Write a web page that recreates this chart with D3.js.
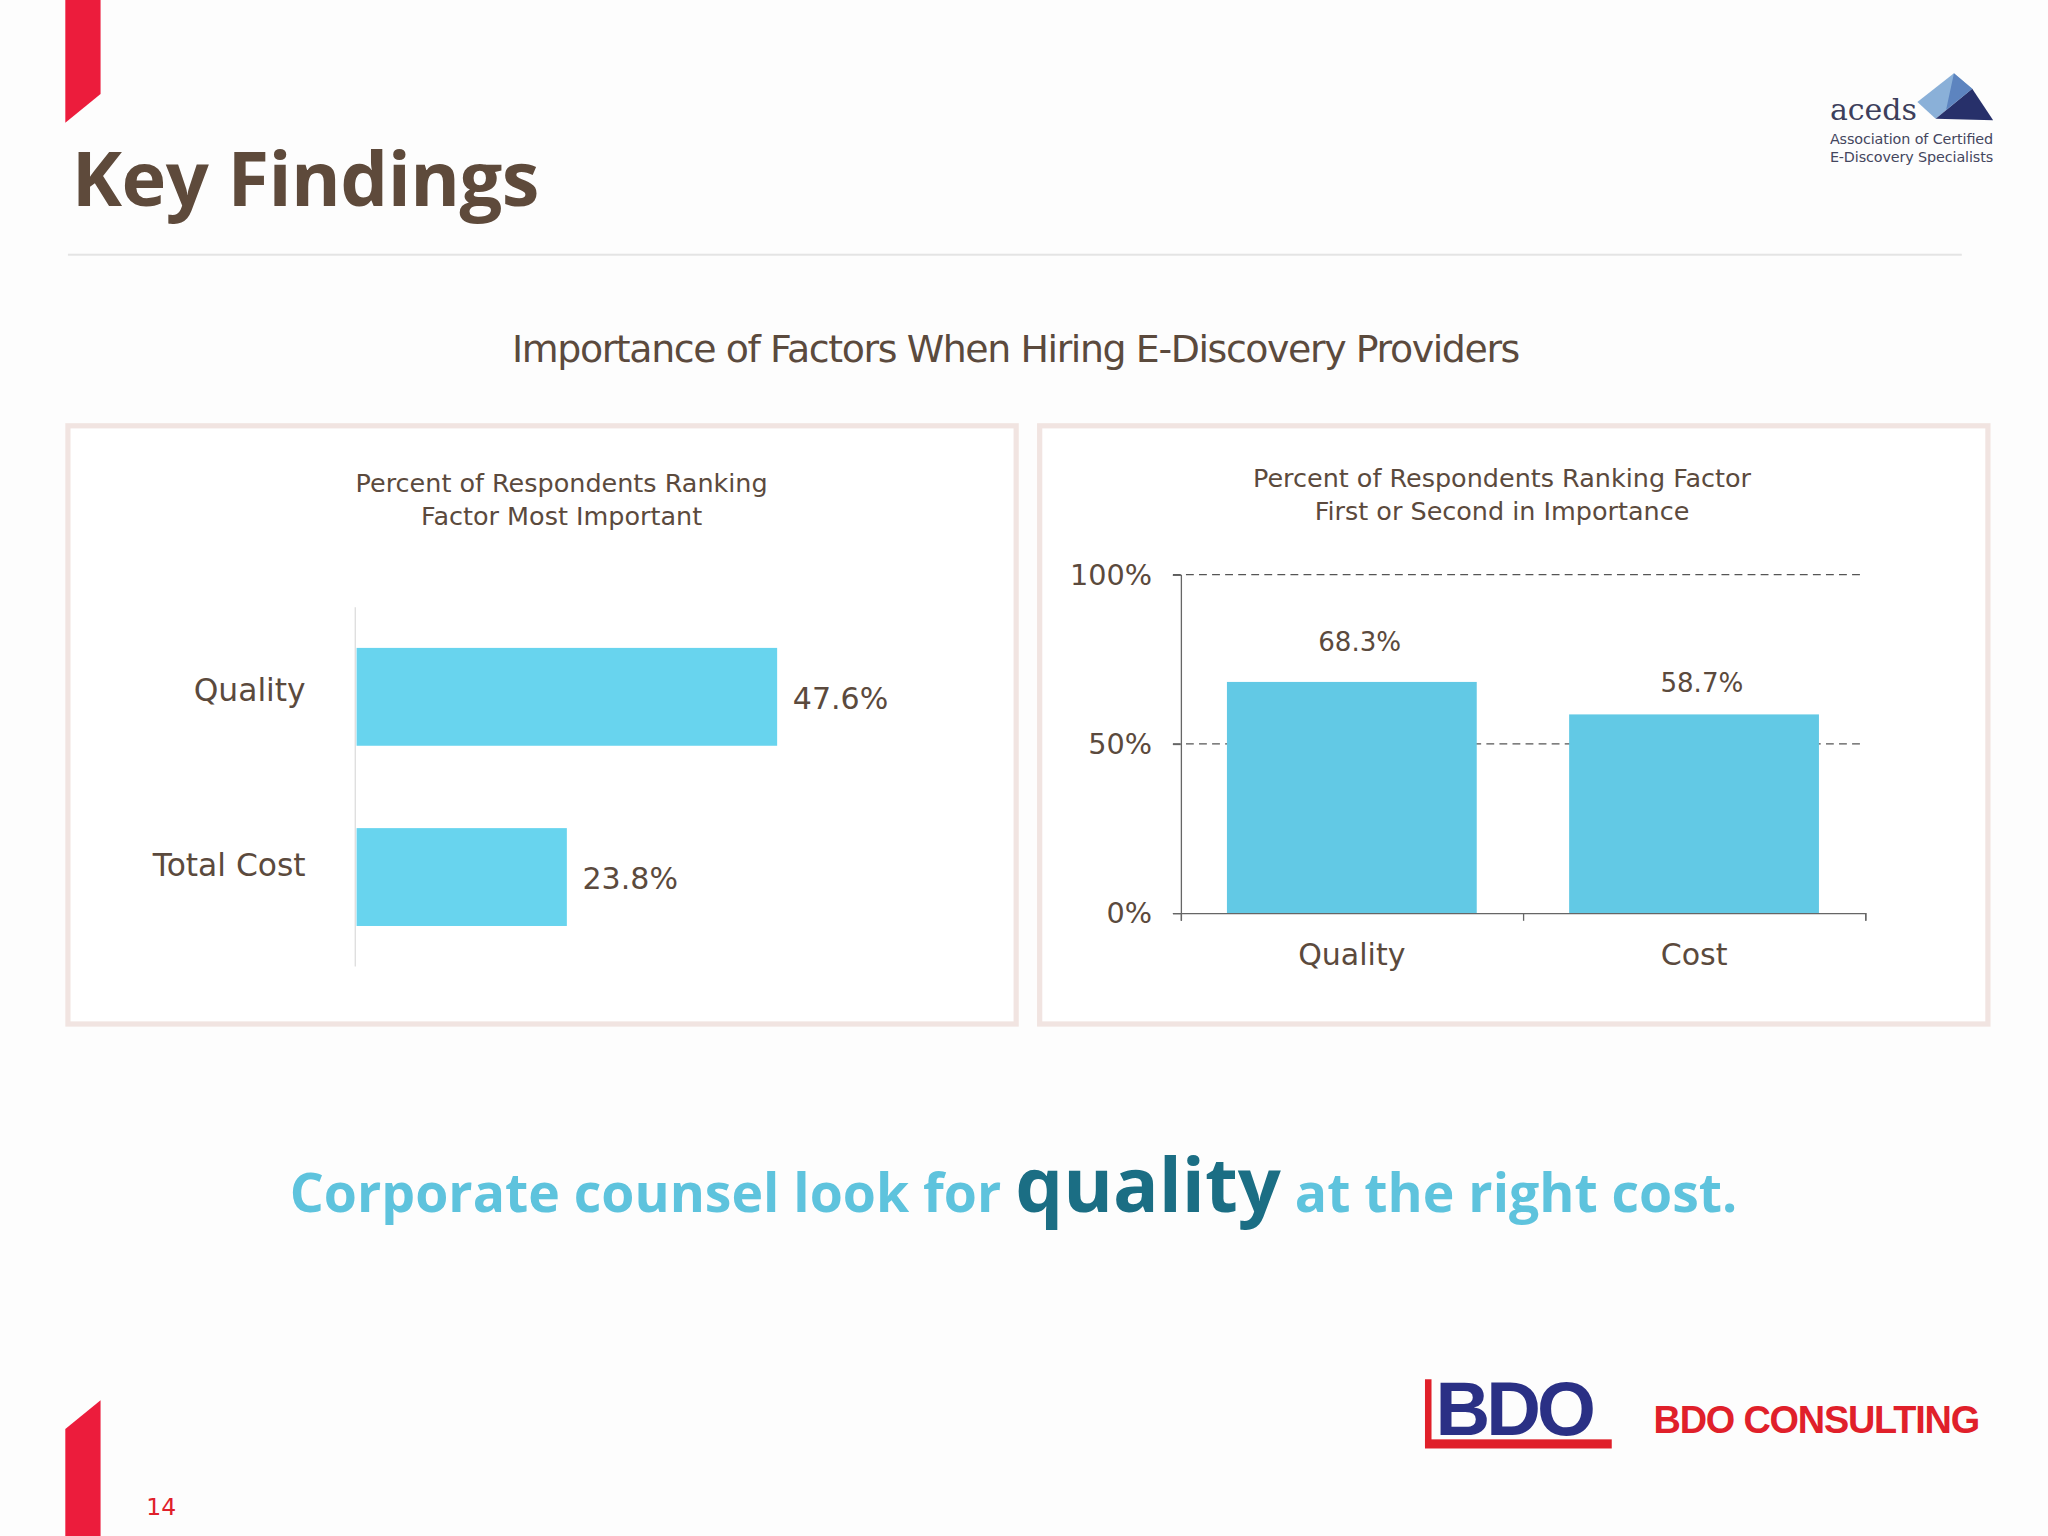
<!DOCTYPE html>
<html><head><meta charset="utf-8">
<script src="https://cdn.jsdelivr.net/npm/d3@7"></script>
<style>body{margin:0;background:#fff}svg{display:block}text{font-family:"DejaVu Sans",sans-serif}</style>
</head><body>
<script>
// data
const leftCats = ["Quality", "Total Cost"];
const leftVals = [47.6, 23.8];
const rightCats = ["Quality", "Cost"];
const rightVals = [68.3, 58.7];
const rightTicks = [0, 50, 100];

const brown = "#5b4a3d";
const svg = d3.select("body").append("svg")
  .attr("width", 2048).attr("height", 1536)
  .attr("viewBox", "0 0 1568 1176");

svg.append("rect").attr("width", 1568).attr("height", 1176).attr("fill", "#fdfdfd");
// red corner marks
svg.append("path").attr("d", "M50,0H77V72L50,94Z").attr("fill", "#ec1c3c");
svg.append("path").attr("d", "M50,1094L77,1072V1176H50Z").attr("fill", "#ec1c3c");
svg.append("text").attr("x", 112).attr("y", 1160).attr("fill", "#e0202a").attr("font-size", 18).text("14");

svg.append("text").attr("x", 55).attr("y", 158).attr("fill", "#5e4a3b")
  .attr("font-size", 58).attr("font-weight", "bold").style("font-family", "'Open Sans',sans-serif")
  .attr("textLength", 358).text("Key Findings");
svg.append("line").attr("x1", 52).attr("x2", 1502).attr("y1", 195).attr("y2", 195)
  .attr("stroke", "#e4e4e4").attr("stroke-width", 1.5);

// aceds logo
const lg = svg.append("g");
lg.append("path").attr("d", "M1468,78L1496,56L1510,68L1482,91Z").attr("fill", "#8ab0d8");
lg.append("path").attr("d", "M1482,91L1510,68L1526,92Z").attr("fill", "#27306a");
lg.append("path").attr("d", "M1496,56L1510,68L1490,84Z").attr("fill", "#5d84bf");
lg.append("text").attr("x", 1401).attr("y", 92).attr("fill", "#3d3f5c").attr("font-size", 23)
  .style("font-family", "'DejaVu Serif',serif").text("aceds");
lg.append("text").attr("x", 1401).attr("y", 110).attr("fill", "#44465e").attr("font-size", 11).attr("textLength", 125).text("Association of Certified");
lg.append("text").attr("x", 1401).attr("y", 124).attr("fill", "#44465e").attr("font-size", 11).attr("textLength", 125).text("E-Discovery Specialists");

svg.append("text").attr("x", 778).attr("y", 277).attr("text-anchor", "middle").attr("fill", brown)
  .attr("font-size", 29).attr("textLength", 772).text("Importance of Factors When Hiring E-Discovery Providers");

// panels
[[52, 326], [796, 326]].forEach(([x, y]) => svg.append("rect").attr("x", x).attr("y", y)
  .attr("width", 726).attr("height", 458).attr("fill", "#fff").attr("stroke", "#f1e4e1").attr("stroke-width", 4));

// left chart
const lx = d3.scaleLinear().domain([0, 47.6]).range([273, 595]);
const ly = d3.scaleBand().domain(leftCats).range([465, 740]).paddingInner(0.457).paddingOuter(0.225);
const L = svg.append("g");
L.append("text").attr("x", 430).attr("y", 377).attr("text-anchor", "middle").attr("fill", brown).attr("font-size", 19.5)
  .selectAll("tspan").data(["Percent of Respondents Ranking", "Factor Most Important"]).join("tspan")
  .attr("x", 430).attr("dy", (d, i) => i ? 25 : 0).text(d => d);
L.append("line").attr("x1", 272).attr("x2", 272).attr("y1", 465).attr("y2", 740).attr("stroke", "#ddd");
L.selectAll("rect.b").data(leftVals).join("rect").attr("class", "b")
  .attr("x", lx(0)).attr("y", (d, i) => ly(leftCats[i])).attr("width", d => lx(d) - lx(0))
  .attr("height", ly.bandwidth()).attr("fill", "#68d4ee");
L.selectAll("text.v").data(leftVals).join("text").attr("class", "v")
  .attr("x", d => lx(d) + 12).attr("y", (d, i) => ly(leftCats[i]) + ly.bandwidth() / 2 + 9)
  .attr("fill", brown).attr("font-size", 23).text(d => d.toFixed(1) + "%");
L.selectAll("text.c").data(leftCats).join("text").attr("class", "c")
  .attr("x", 234).attr("y", (d, i) => ly(d) + ly.bandwidth() / 2 + (i ? -1 : 3)).attr("text-anchor", "end")
  .attr("fill", brown).attr("font-size", 24).text(d => d);

// right chart
const rx = d3.scaleBand().domain(rightCats).range([904, 1428]).paddingInner(0.27).paddingOuter(0.135);
const ry = d3.scaleLinear().domain([0, 100]).range([699, 440]);
const R = svg.append("g");
R.append("text").attr("x", 1150).attr("y", 373).attr("text-anchor", "middle").attr("fill", brown).attr("font-size", 19.5)
  .selectAll("tspan").data(["Percent of Respondents Ranking Factor", "First or Second in Importance"]).join("tspan")
  .attr("x", 1150).attr("dy", (d, i) => i ? 25 : 0).text(d => d);
R.selectAll("line.g").data(rightTicks.slice(1)).join("line").attr("class", "g")
  .attr("x1", 898).attr("x2", 1428).attr("y1", d => ry(d)).attr("y2", d => ry(d))
  .attr("stroke", "#555").attr("stroke-dasharray", "6,4");
R.selectAll("rect.b").data(rightVals).join("rect").attr("class", "b")
  .attr("x", (d, i) => rx(rightCats[i])).attr("y", d => ry(d)).attr("width", rx.bandwidth())
  .attr("height", d => ry(0) - ry(d)).attr("fill", "#62c9e5");
R.selectAll("text.v").data(rightVals).join("text").attr("class", "v")
  .attr("x", (d, i) => rx(rightCats[i]) + rx.bandwidth() / 2 + 6).attr("y", (d, i) => ry(d) - (i ? 17 : 24))
  .attr("text-anchor", "middle").attr("fill", brown).attr("font-size", 20).text(d => d.toFixed(1) + "%");
const yAxis = R.append("g").attr("transform", "translate(904,0)")
  .call(d3.axisLeft(ry).tickValues(rightTicks).tickSize(6).tickFormat(d => d + "%"));
yAxis.select(".domain").attr("stroke", "#666");
yAxis.selectAll("line").attr("stroke", "#666");
yAxis.selectAll("text").attr("x", -22).attr("fill", brown).attr("font-size", 22).attr("font-family", "'DejaVu Sans',sans-serif");
const xAxis = R.append("g").attr("transform", "translate(0,699)")
  .call(d3.axisBottom(d3.scaleLinear().domain([0, 2]).range([904, 1428])).tickValues([0, 1, 2]).tickSize(6).tickFormat(""));
xAxis.select(".domain").attr("stroke", "#666");
xAxis.selectAll("line").attr("stroke", "#666");
R.selectAll("text.c").data(rightCats).join("text").attr("class", "c")
  .attr("x", d => rx(d) + rx.bandwidth() / 2).attr("y", 739).attr("text-anchor", "middle")
  .attr("fill", brown).attr("font-size", 23).text(d => d);

// tagline
const t = svg.append("text").attr("x", 776).attr("y", 928).attr("text-anchor", "middle")
  .attr("font-weight", "bold").style("font-family", "'Open Sans',sans-serif");
t.append("tspan").attr("fill", "#5ec3dd").attr("font-size", 41).text("Corporate counsel look for ");
t.append("tspan").attr("fill", "#1b6e84").attr("font-size", 58).text("quality");
t.append("tspan").attr("fill", "#5ec3dd").attr("font-size", 41).text(" at the right cost.");

// BDO logo
svg.append("rect").attr("x", 1091).attr("y", 1056).attr("width", 5).attr("height", 52).attr("fill", "#e0202a");
svg.append("rect").attr("x", 1091).attr("y", 1102).attr("width", 143).attr("height", 7).attr("fill", "#e0202a");
svg.append("text").attr("x", 1099).attr("y", 1099).attr("fill", "#2a3085").attr("font-size", 58)
  .attr("font-weight", "bold").attr("letter-spacing", -3).style("font-family", "'Liberation Sans',sans-serif").text("BDO");
svg.append("text").attr("x", 1266).attr("y", 1097).attr("fill", "#e0202a").attr("font-size", 29)
  .attr("font-weight", "bold").attr("textLength", 250).style("font-family", "'Liberation Sans',sans-serif").text("BDO CONSULTING");
</script>
</body></html>
